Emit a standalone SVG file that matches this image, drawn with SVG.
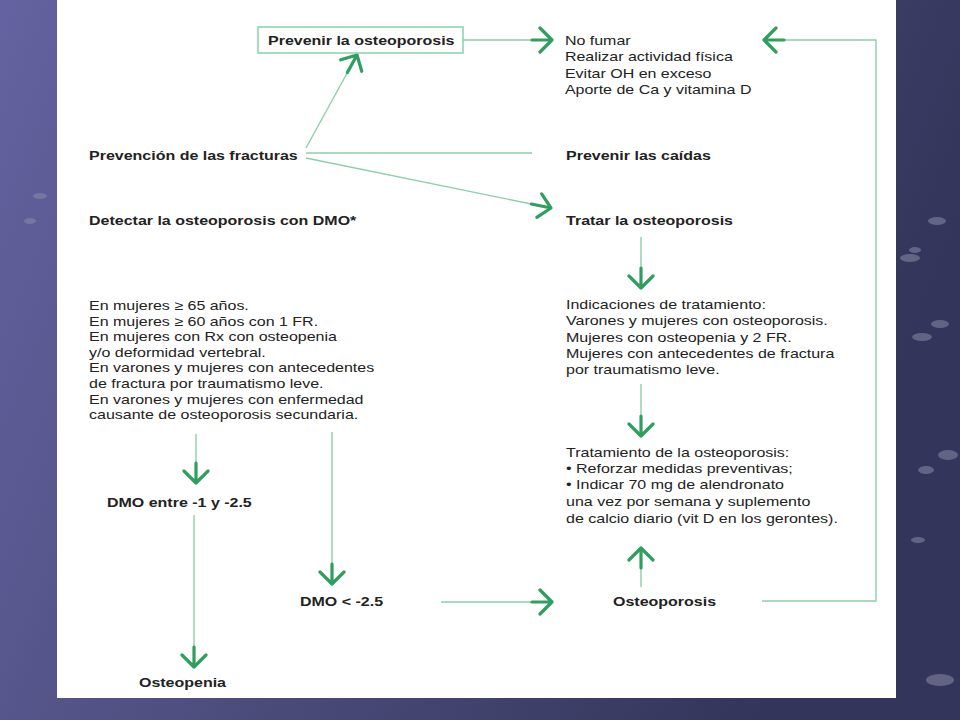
<svg xmlns="http://www.w3.org/2000/svg" width="960" height="720" viewBox="0 0 960 720">
<defs>
<linearGradient id="bg" x1="0" y1="0" x2="1" y2="0.3">
<stop offset="0" stop-color="#6462a0"/>
<stop offset="0.5" stop-color="#4c4c7c"/>
<stop offset="1" stop-color="#34355a"/>
</linearGradient>
<marker id="ah" viewBox="-22 -15 24 30" refX="0" refY="0" markerWidth="24" markerHeight="30" markerUnits="userSpaceOnUse" orient="auto">
<path d="M-12,-12 L0,0 L-12,12 M0,0 L-20,0" fill="none" stroke="#2f9e5f" stroke-width="3.2" stroke-linecap="round" stroke-linejoin="round"/>
</marker>
<style>
.t{font-family:"Liberation Sans",Arial,sans-serif;font-size:13px;fill:#222;}
.b{font-weight:bold;}
.c{fill:none;stroke:#8ccfab;stroke-width:1.4;}
.a{marker-end:url(#ah);}
.bub{fill:#8a8aa8;opacity:0.55;}
</style>
</defs>
<rect width="960" height="720" fill="url(#bg)"/>
<g id="bubbles">
<ellipse class="bub" cx="910" cy="258" rx="10" ry="4"/>
<ellipse class="bub" cx="937" cy="221" rx="9" ry="4"/>
<ellipse class="bub" cx="922" cy="337" rx="10" ry="4"/>
<ellipse class="bub" cx="940" cy="324" rx="9" ry="4"/>
<ellipse class="bub" cx="915" cy="250" rx="6" ry="3"/>
<ellipse class="bub" cx="948" cy="455" rx="10" ry="5"/>
<ellipse class="bub" cx="926" cy="470" rx="8" ry="4"/>
<ellipse class="bub" cx="940" cy="680" rx="14" ry="6"/>
<ellipse class="bub" cx="918" cy="540" rx="7" ry="3"/>
<ellipse class="bub" cx="40" cy="196" rx="7" ry="3" opacity="0.3"/>
<ellipse class="bub" cx="30" cy="221" rx="6" ry="3" opacity="0.3"/>
</g>
<rect x="57" y="0" width="839" height="698" fill="#ffffff"/>
<g id="connectors">
<line class="c a" x1="463" y1="40" x2="552" y2="40"/>
<polyline class="c a" points="762,601 876,601 876,40 764,40"/>
<line class="c a" x1="306" y1="148" x2="357" y2="55"/>
<line class="c" x1="306" y1="153" x2="532" y2="153"/>
<line class="c a" x1="306" y1="158" x2="551" y2="208"/>
<line class="c a" x1="641" y1="237" x2="641" y2="288"/>
<line class="c a" x1="641" y1="384" x2="641" y2="436"/>
<line class="c a" x1="641" y1="587" x2="641" y2="548"/>
<line class="c a" x1="196" y1="434" x2="196" y2="483"/>
<line class="c a" x1="194" y1="515" x2="194" y2="667"/>
<line class="c a" x1="332" y1="432" x2="332" y2="584"/>
<line class="c a" x1="441" y1="602" x2="552" y2="602"/>
</g>
<g id="prevenir-osteoporosis">
<rect x="258" y="27" width="205" height="26" fill="#fff" stroke="#8ccfab" stroke-width="1.5"/>
<text class="t b" transform="scale(1.23 1)" x="217.9" y="45">Prevenir la osteoporosis</text>
</g>
<g id="medidas" transform="scale(1.23 1)">
<text class="t" x="459.3" y="45">No fumar</text>
<text class="t" x="459.3" y="61">Realizar actividad física</text>
<text class="t" x="459.3" y="78">Evitar OH en exceso</text>
<text class="t" x="459.3" y="94">Aporte de Ca y vitamina D</text>
</g>
<g id="prevencion-fracturas" transform="scale(1.23 1)"><text class="t b" x="72.4" y="160">Prevención de las fracturas</text></g>
<g id="prevenir-caidas" transform="scale(1.23 1)"><text class="t b" x="460.2" y="160">Prevenir las caídas</text></g>
<g id="detectar" transform="scale(1.23 1)"><text class="t b" x="72.4" y="225">Detectar la osteoporosis con DMO*</text></g>
<g id="tratar" transform="scale(1.23 1)"><text class="t b" x="460.2" y="225">Tratar la osteoporosis</text></g>
<g id="criterios" transform="scale(1.23 1)">
<text class="t" x="72.4" y="310">En mujeres ≥ 65 años.</text>
<text class="t" x="72.4" y="326">En mujeres ≥ 60 años con 1 FR.</text>
<text class="t" x="72.4" y="341">En mujeres con Rx con osteopenia</text>
<text class="t" x="72.4" y="357">y/o deformidad vertebral.</text>
<text class="t" x="72.4" y="372">En varones y mujeres con antecedentes</text>
<text class="t" x="72.4" y="388">de fractura por traumatismo leve.</text>
<text class="t" x="72.4" y="404">En varones y mujeres con enfermedad</text>
<text class="t" x="72.4" y="419">causante de osteoporosis secundaria.</text>
</g>
<g id="indicaciones" transform="scale(1.23 1)">
<text class="t" x="460.2" y="309">Indicaciones de tratamiento:</text>
<text class="t" x="460.2" y="325">Varones y mujeres con osteoporosis.</text>
<text class="t" x="460.2" y="342">Mujeres con osteopenia y 2 FR.</text>
<text class="t" x="460.2" y="358">Mujeres con antecedentes de fractura</text>
<text class="t" x="460.2" y="374">por traumatismo leve.</text>
</g>
<g id="tratamiento" transform="scale(1.23 1)">
<text class="t" x="460.2" y="457">Tratamiento de la osteoporosis:</text>
<text class="t" x="460.2" y="473">• Reforzar medidas preventivas;</text>
<text class="t" x="460.2" y="489">• Indicar 70 mg de alendronato</text>
<text class="t" x="460.2" y="506">una vez por semana y suplemento</text>
<text class="t" x="460.2" y="523">de calcio diario (vit D en los gerontes).</text>
</g>
<g id="dmo-entre" transform="scale(1.23 1)"><text class="t b" x="87" y="507">DMO entre -1 y -2.5</text></g>
<g id="osteopenia" transform="scale(1.23 1)"><text class="t b" x="113" y="687">Osteopenia</text></g>
<g id="dmo-menor" transform="scale(1.23 1)"><text class="t b" x="243.9" y="606">DMO &lt; -2.5</text></g>
<g id="osteoporosis" transform="scale(1.23 1)"><text class="t b" x="498.4" y="606">Osteoporosis</text></g>
</svg>
